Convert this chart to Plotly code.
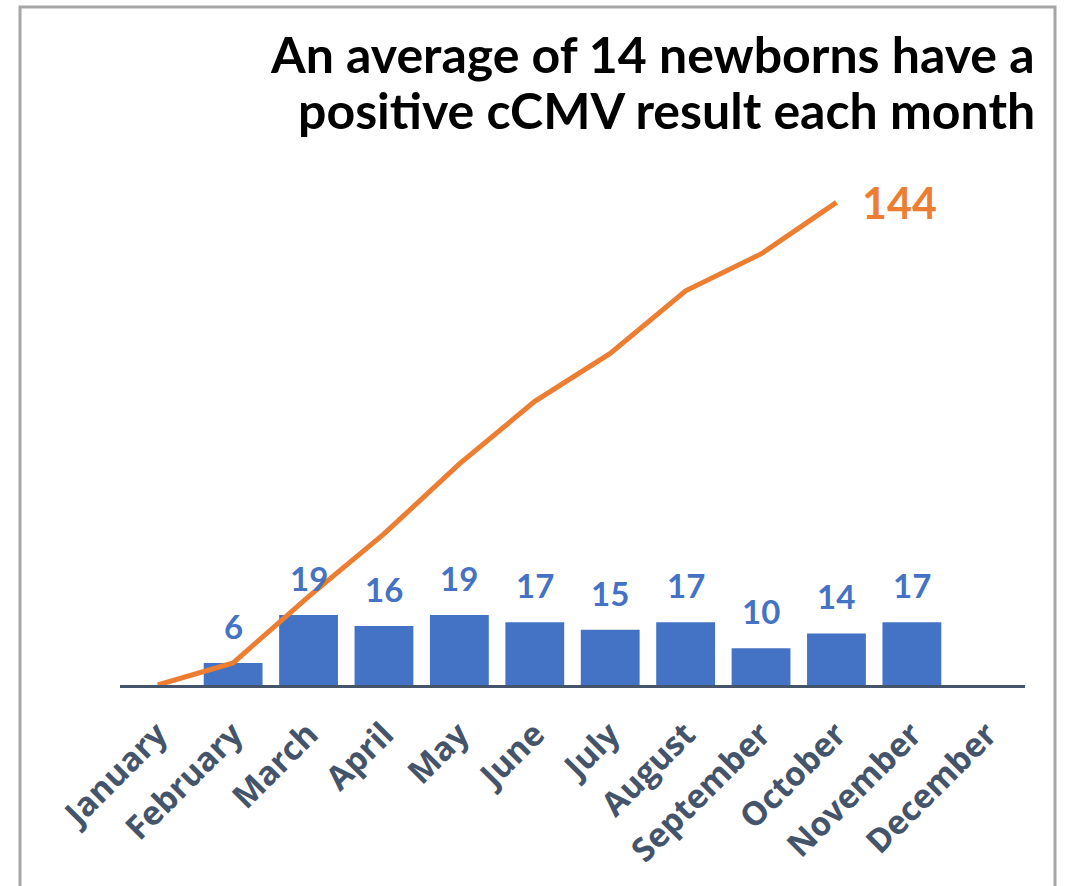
import plotly.graph_objects as go

months = ["January", "February", "March", "April", "May", "June", "July",
          "August", "September", "October", "November", "December"]
monthly_positive = [None, 6, 19, 16, 19, 17, 15, 17, 10, 14, 17, None]
cumulative_months = months[:10]
cumulative_positive = [0, 6, 24, 41, 60, 77, 90, 107, 117, 131]
total_label = 144
title_lines = ["An average of 14 newborns have a", "positive cCMV result each month"]

BLUE = "#4472C4"
ORANGE = "#ED7D31"
SLATE = "#44546A"
FONT = "Lato"

L, R, T, B = 120, 41, 160, 201
W, H = 1066 - L - R, 886 - T - B

fig = go.Figure()
fig.add_trace(go.Bar(x=months, y=monthly_positive, marker_color=BLUE,
                     marker_line_width=0, hoverinfo="skip"))
fig.add_trace(go.Scatter(x=cumulative_months, y=cumulative_positive, mode="lines",
                         line=dict(color=ORANGE, width=5), hoverinfo="skip"))

ann = []
for m, v in zip(months, monthly_positive):
    if v is None:
        continue
    ann.append(dict(x=m, y=v, xref="x", yref="y", text=str(v), showarrow=False,
                    yanchor="bottom", yshift=15,
                    font=dict(family=FONT, size=33, color=BLUE, weight="bold")))
ann.append(dict(x=cumulative_months[-1], y=cumulative_positive[-1], xref="x", yref="y",
                text=str(total_label), showarrow=False, xanchor="left", yanchor="middle",
                xshift=24, font=dict(family=FONT, size=43, color=ORANGE, weight="bold")))
title_baselines = [72, 128]
for line, base in zip(title_lines, title_baselines):
    ann.append(dict(x=(1037 - L) / W, y=(685 - base) / H, xref="paper", yref="paper",
                    text=line, showarrow=False, xanchor="right", yanchor="bottom",
                    yshift=-14,
                    font=dict(family=FONT, size=50, color="#000000", weight="bold")))

fig.update_layout(
    width=1066, height=886,
    margin=dict(l=L, r=R, t=T, b=B),
    paper_bgcolor="white", plot_bgcolor="white",
    showlegend=False, bargap=0.22,
    annotations=ann,
    xaxis=dict(tickangle=-45, showline=True, linecolor=SLATE, linewidth=2.5,
               ticks="", showgrid=False, zeroline=False, ticklabelstandoff=14,
               tickfont=dict(family="Open Sans", size=33, color=SLATE, weight="bold")),
    yaxis=dict(range=[0, 142.5], visible=False, showgrid=False, zeroline=False),
    shapes=[dict(type="rect", xref="paper", yref="paper",
                 x0=(20 - L) / W, x1=(1055 - L) / W,
                 y0=(685 - 950) / H, y1=(685 - 7) / H,
                 line=dict(color="#A6A6A6", width=3), fillcolor="rgba(0,0,0,0)",
                 layer="below")],
)

fig.write_html("out.html", config={"displayModeBar": False},
               post_script="document.body.style.margin='0';document.body.style.overflow='hidden';")
